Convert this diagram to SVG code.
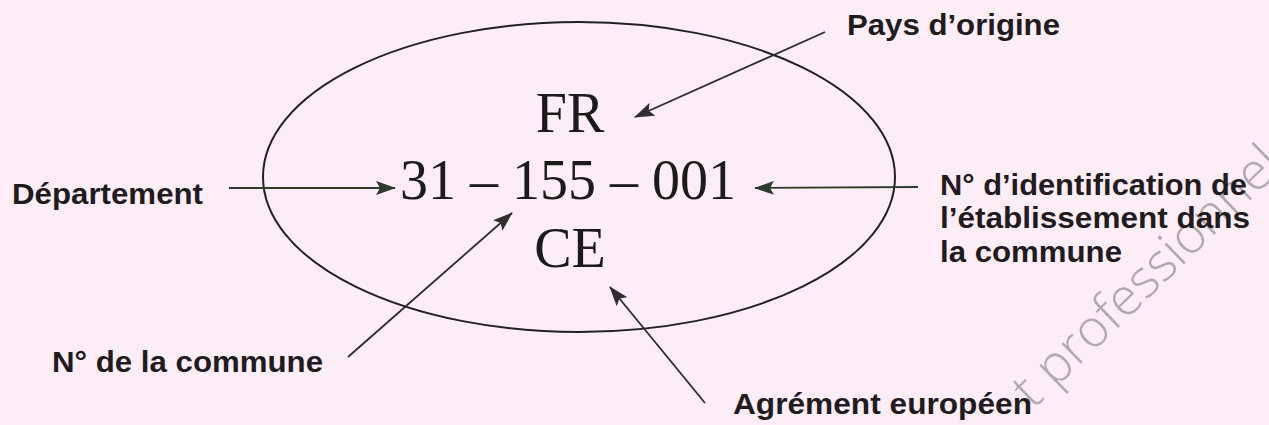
<svg xmlns="http://www.w3.org/2000/svg" width="1269" height="425" viewBox="0 0 1269 425">
  <style>
    .lbl { font-family: "Liberation Sans", Arial, sans-serif; font-weight: bold; fill: #1f1b1e; font-size: 30px; }
    .big { font-family: "Liberation Serif", "Times New Roman", serif; font-size: 56px; fill: #1c1a1c; }
    .conn { stroke: #2a2b2c; stroke-width: 1.8; fill: none; marker-end: url(#ah); }
    .connh { stroke: #2c3a2e; stroke-width: 1.8; fill: none; marker-end: url(#ahg); }
    .wm { font-family: "Open Sans", "DejaVu Sans", sans-serif; font-weight: 300; font-size: 52px; fill: #b0a9ad; }
  </style>
  <defs>
    <marker id="ah" viewBox="0 0 20 14" refX="19" refY="7" markerWidth="20" markerHeight="14" markerUnits="userSpaceOnUse" orient="auto">
      <path d="M0,0 L20,7 L0,14 L4,7 z" fill="#2f2d30"/>
    </marker>
    <marker id="ahg" viewBox="0 0 20 14" refX="19" refY="7" markerWidth="20" markerHeight="14" markerUnits="userSpaceOnUse" orient="auto">
      <path d="M0,0 L20,7 L0,14 L4,7 z" fill="#2d3a2e"/>
    </marker>
  </defs>
  <rect x="0" y="0" width="1269" height="425" fill="#fcedf6"/>

  <!-- watermark -->
  <text class="wm" x="1033" y="410" transform="rotate(-44 1033 410)">t professionnel</text>

  <g id="stamp">
    <ellipse cx="579" cy="177" rx="316" ry="155" fill="none" stroke="#222022" stroke-width="2"/>
    <text class="big" x="570" y="132" text-anchor="middle">FR</text>
    <text class="big" x="568" y="199" text-anchor="middle">31 – 155 – 001</text>
    <text class="big" x="570" y="267" text-anchor="middle">CE</text>
  </g>

  <g id="label-departement">
    <text class="lbl" x="12" y="204" textLength="191" lengthAdjust="spacingAndGlyphs">Département</text>
  </g>
  <g id="label-commune">
    <text class="lbl" x="52" y="372" textLength="271" lengthAdjust="spacingAndGlyphs">N° de la commune</text>
  </g>
  <g id="label-pays">
    <text class="lbl" x="847" y="35" textLength="213" lengthAdjust="spacingAndGlyphs">Pays d’origine</text>
  </g>
  <g id="label-identification">
    <text class="lbl" x="940" y="195" textLength="307" lengthAdjust="spacingAndGlyphs">N° d’identification de</text>
    <text class="lbl" x="940" y="228" textLength="310" lengthAdjust="spacingAndGlyphs">l’établissement dans</text>
    <text class="lbl" x="940" y="262" textLength="182" lengthAdjust="spacingAndGlyphs">la commune</text>
  </g>
  <g id="label-agrement">
    <text class="lbl" x="733" y="414" textLength="299" lengthAdjust="spacingAndGlyphs">Agrément européen</text>
  </g>

  <g id="connectors">
    <line class="connh" x1="229" y1="188" x2="395" y2="188"/>
    <line class="connh" x1="918" y1="187" x2="755" y2="188"/>
    <line class="conn" x1="825" y1="32" x2="635" y2="117"/>
    <line class="conn" x1="348" y1="357" x2="512" y2="213"/>
    <line class="conn" x1="705" y1="403" x2="610" y2="287"/>
  </g>
</svg>
